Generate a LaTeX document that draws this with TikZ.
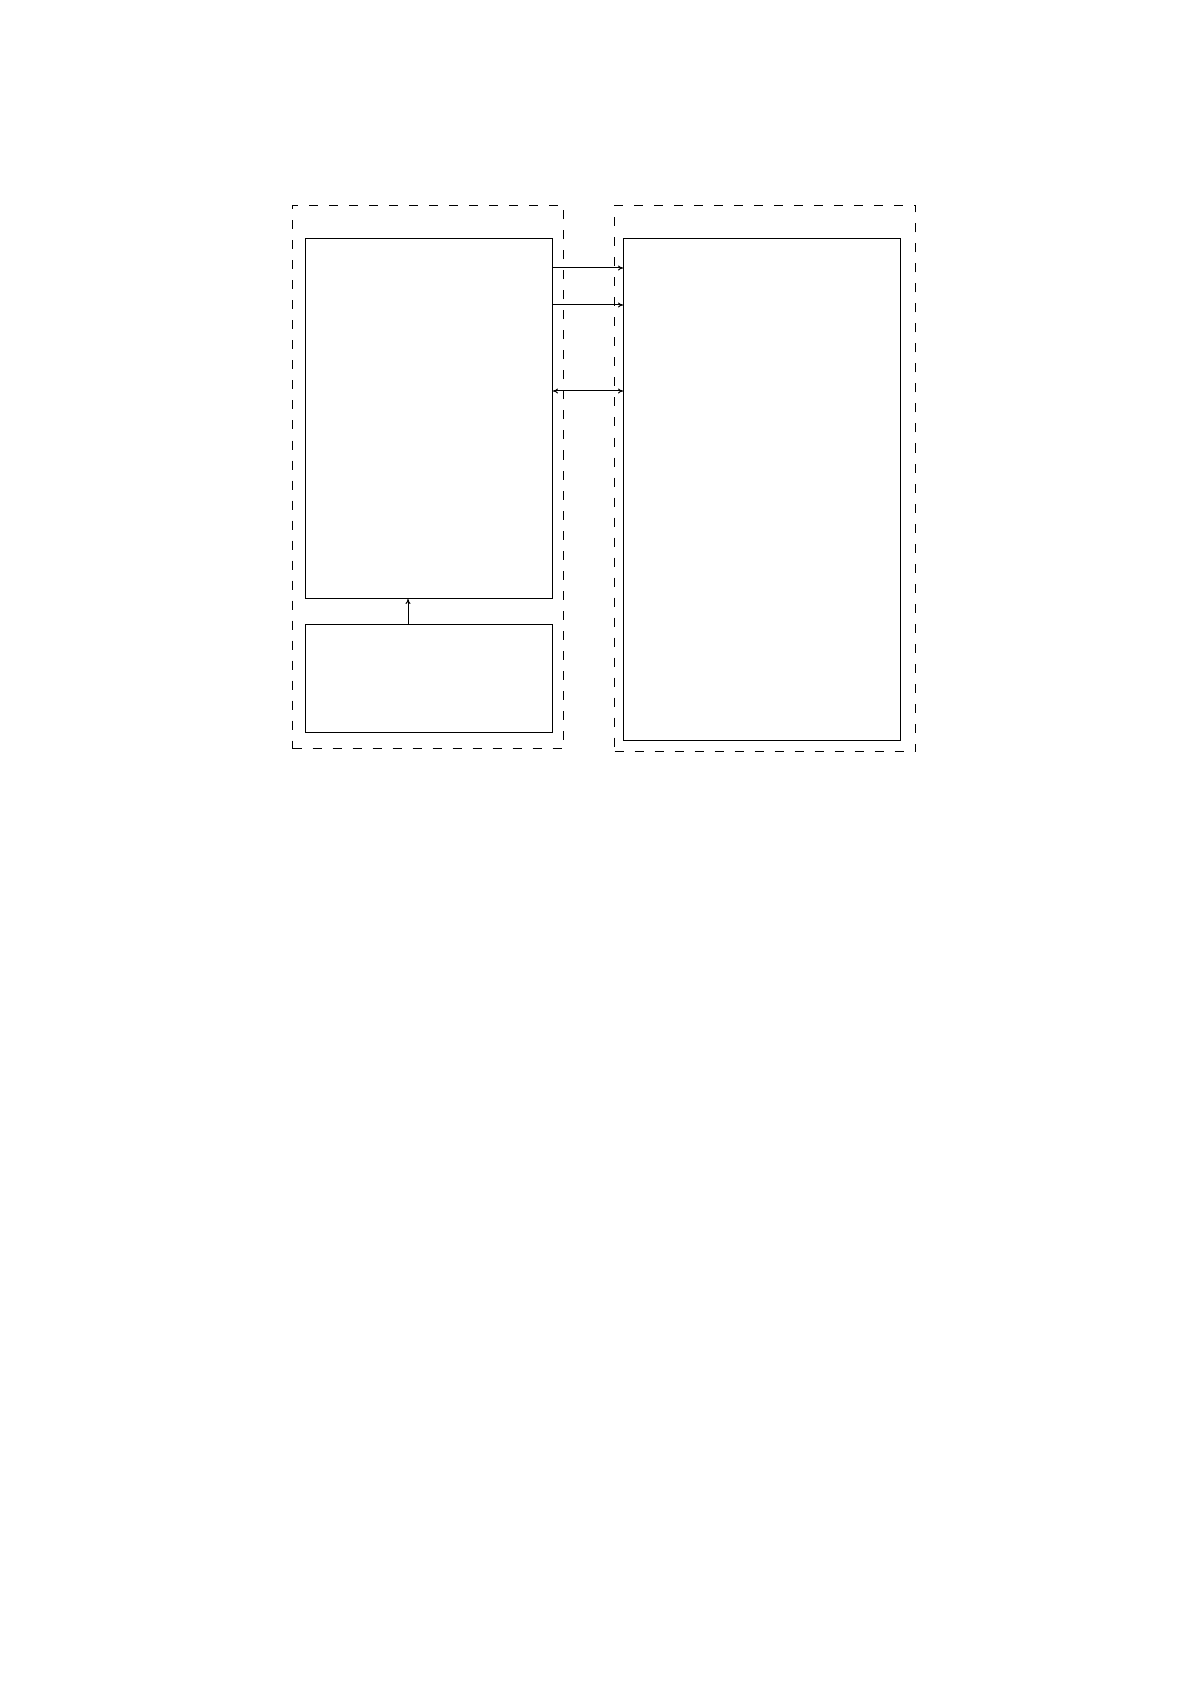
\documentclass[tikz,border=0pt]{standalone}
\usetikzlibrary{arrows.meta}
\begin{document}
\begin{tikzpicture}[x=0.5pt,y=-0.5pt,
  box/.style={draw,line width=0.5pt,inner sep=0pt,anchor=north west},
  group/.style={draw,line width=0.5pt,dash pattern=on 4.5pt off 5.5pt,inner sep=0pt,anchor=north west},
  conn/.style={line width=0.5pt,-{To[length=2.5pt,width=2.5pt]}},
  conn2/.style={line width=0.5pt,{To[length=2.5pt,width=2.5pt]}-{To[length=2.5pt,width=2.5pt]}}]
\useasboundingbox (0,0) rectangle (1191,1684);
\node[group,minimum width=135.5pt,minimum height=271.5pt] (lgroup) at (292,205) {};
\node[group,minimum width=150.5pt,minimum height=273pt] (rgroup) at (614,205) {};
\node[box,minimum width=123.5pt,minimum height=180pt] (ltop) at (305,238) {};
\node[box,minimum width=123.5pt,minimum height=54pt] (lbot) at (305,624) {};
\node[box,minimum width=138.5pt,minimum height=251pt] (rbox) at (623,238) {};
\draw[conn] (ltop.east |- 0,268) -- (rbox.west |- 0,268);
\draw[conn] (ltop.east |- 0,305) -- (rbox.west |- 0,305);
\draw[conn2] (ltop.east |- 0,391) -- (rbox.west |- 0,391);
\draw[conn] (lbot.north -| 408,0) -- (ltop.south -| 408,0);
\end{tikzpicture}
\end{document}
